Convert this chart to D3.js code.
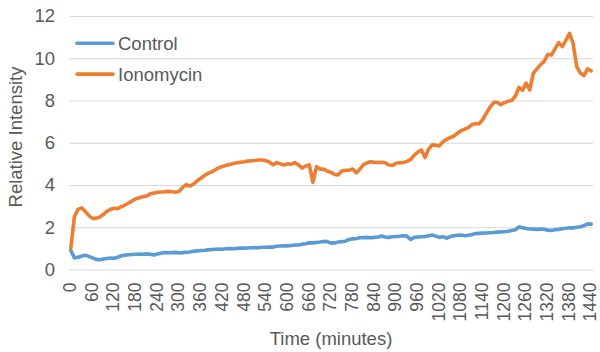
<!DOCTYPE html>
<html>
<head>
<meta charset="utf-8">
<script src="https://cdn.jsdelivr.net/npm/d3@7"></script>
<style>
  body { margin: 0; background: #fff; }
  text { font-family: "Liberation Sans", Arial, sans-serif; fill: #595959; }
</style>
</head>
<body>
<div id="chart"></div>
<script>
"use strict";

// == DATA ==
// one reading every 10 minutes, 0 .. 1440
var times = d3.range(0, 1441, 10);
var xTicks = d3.range(0, 1441, 60);
var yTicks = [0, 2, 4, 6, 8, 10, 12];
var seriesNames = ["Control", "Ionomycin"];

var control = [
  0.9, 0.55, 0.58, 0.63, 0.68, 0.62, 0.55, 0.48, 0.46, 0.5,
  0.52, 0.54, 0.53, 0.58, 0.65, 0.68, 0.7, 0.71, 0.72, 0.73,
  0.72, 0.74, 0.72, 0.69, 0.74, 0.77, 0.8, 0.79, 0.8, 0.81,
  0.78, 0.8, 0.82, 0.83, 0.86, 0.88, 0.9, 0.91, 0.93, 0.95,
  0.96, 0.97, 0.96, 0.98, 0.99, 0.98, 1.0, 1.01, 1.01, 1.02,
  1.03, 1.04, 1.03, 1.05, 1.05, 1.06, 1.06, 1.1, 1.11, 1.12,
  1.12, 1.14, 1.16, 1.16, 1.2, 1.22, 1.27, 1.26, 1.28, 1.3,
  1.33, 1.32, 1.25, 1.26, 1.3, 1.32, 1.34, 1.42, 1.45, 1.47,
  1.5, 1.51, 1.52, 1.5, 1.52, 1.54, 1.58, 1.54, 1.52, 1.55,
  1.56, 1.57, 1.6, 1.58, 1.42, 1.52, 1.54, 1.55, 1.56, 1.6,
  1.63, 1.58, 1.52, 1.56, 1.48, 1.56, 1.6, 1.62, 1.63, 1.6,
  1.62, 1.66, 1.7, 1.71, 1.72, 1.73, 1.74, 1.75, 1.77, 1.78,
  1.79, 1.81, 1.85, 1.88, 2.02, 1.98, 1.94, 1.92, 1.91, 1.9,
  1.92, 1.91, 1.86, 1.85, 1.88, 1.9, 1.93, 1.95, 1.98, 1.97,
  2.0, 2.02, 2.08, 2.16, 2.15
];

var ionomycin = [
  1.0, 2.5, 2.85, 2.92, 2.75, 2.55, 2.42, 2.42, 2.48, 2.6,
  2.75, 2.85, 2.9, 2.88, 2.98, 3.05, 3.15, 3.25, 3.35, 3.4,
  3.45, 3.48, 3.58, 3.62, 3.65, 3.67, 3.68, 3.7, 3.68, 3.66,
  3.7, 3.9, 4.02, 3.95, 4.05, 4.2, 4.32, 4.45, 4.55, 4.62,
  4.72, 4.82, 4.88, 4.93, 4.97, 5.02, 5.05, 5.08, 5.1, 5.13,
  5.15, 5.16, 5.18, 5.18, 5.15, 5.08, 4.96, 5.06, 5.0, 4.95,
  5.0, 4.98, 5.06, 4.95, 4.8, 4.9, 4.95, 4.12, 4.87, 4.75,
  4.75, 4.65, 4.6, 4.5, 4.48, 4.66, 4.7, 4.7, 4.76, 4.58,
  4.75, 4.97, 5.05, 5.1, 5.08, 5.06, 5.08, 5.05, 4.95, 4.92,
  5.03, 5.05, 5.06, 5.12, 5.2, 5.4, 5.55, 5.66, 5.3, 5.7,
  5.9, 5.88, 5.85, 6.05, 6.16, 6.25, 6.32, 6.45, 6.57, 6.64,
  6.72, 6.86, 6.9, 6.9, 7.1, 7.4, 7.68, 7.9, 7.92, 7.8,
  7.9, 7.96, 8.0, 8.2, 8.62, 8.48, 8.82, 8.5, 9.3, 9.5,
  9.7, 9.85, 10.18, 10.15, 10.45, 10.74, 10.55, 10.85, 11.18, 10.7,
  9.6, 9.3, 9.18, 9.5, 9.4
];

var colors = ["#5b9bd5", "#ed7d31"];

// == BOILERPLATE ==
var W = 600, H = 352;
var margin = { top: 16, right: 7, bottom: 82.5, left: 69 },
    width = W - margin.left - margin.right,
    height = H - margin.top - margin.bottom;

var svg = d3.select("#chart")
            .append("svg")
            .attr("width", W)
            .attr("height", H);

var g = svg.append("g")
           .attr("transform", "translate(" + margin.left + "," + margin.top + ")");

// == SCALES ==
// points sit in the middle of each 10-minute slot, like a category axis
var xScale = d3.scaleLinear()
               .domain([-5, 1445])
               .range([0, width]);

var yScale = d3.scaleLinear()
               .domain([0, 12])
               .range([height, 0]);

// gridlines
var yAxis = d3.axisLeft(yScale)
              .tickValues(yTicks)
              .tickSize(-width)
              .tickPadding(14);

var yG = g.append("g").call(yAxis);
yG.select(".domain").remove();
yG.selectAll(".tick line").attr("stroke", "#d9d9d9").attr("stroke-width", 1);
yG.selectAll(".tick text")
  .style("font-size", "18.5px")
  .attr("fill", "#595959");

// x labels, rotated
var xAxis = d3.axisBottom(xScale)
              .tickValues(xTicks)
              .tickFormat(d3.format("d"))
              .tickSize(0)
              .tickPadding(0);

var xG = g.append("g")
          .attr("transform", "translate(0," + height + ")")
          .call(xAxis);
xG.select(".domain").remove();
xG.selectAll(".tick text")
  .style("font-size", "17.5px")
  .attr("fill", "#595959")
  .attr("text-anchor", "end")
  .attr("transform", "rotate(-90)")
  .attr("x", -13)
  .attr("y", 0)
  .attr("dy", "0.27em");

// == LINES ==
var lineData = [control, ionomycin];

var line = d3.line()
             .x(function (d, i) { return xScale(times[i]); })
             .y(function (d) { return yScale(d); });

g.selectAll(".series")
 .data(lineData)
 .enter()
 .append("path")
 .attr("class", "series")
 .attr("d", line)
 .attr("fill", "none")
 .attr("stroke", function (d, i) { return colors[i]; })
 .attr("stroke-width", 3.6)
 .attr("stroke-linejoin", "round")
 .attr("stroke-linecap", "round");

// == LEGEND ==
var legend = svg.selectAll(".legend")
                .data(seriesNames)
                .enter()
                .append("g")
                .attr("class", "legend")
                .attr("transform", function (d, i) { return "translate(76," + (43.3 + i * 30.8) + ")"; });

legend.append("line")
      .attr("x1", 1).attr("x2", 37)
      .attr("stroke", function (d, i) { return colors[i]; })
      .attr("stroke-width", 3.6)
      .attr("stroke-linecap", "round");

legend.append("text")
      .attr("x", 42)
      .attr("dy", "0.36em")
      .style("font-size", "18.5px")
      .text(function (d) { return d; });

// == AXIS TITLES ==
svg.append("text")
   .attr("x", 331)
   .attr("y", 345)
   .attr("text-anchor", "middle")
   .style("font-size", "18.5px")
   .text("Time (minutes)");

svg.append("text")
   .attr("transform", "translate(22,137) rotate(-90)")
   .attr("text-anchor", "middle")
   .style("font-size", "18.5px")
   .text("Relative Intensity");
</script>
</body>
</html>
